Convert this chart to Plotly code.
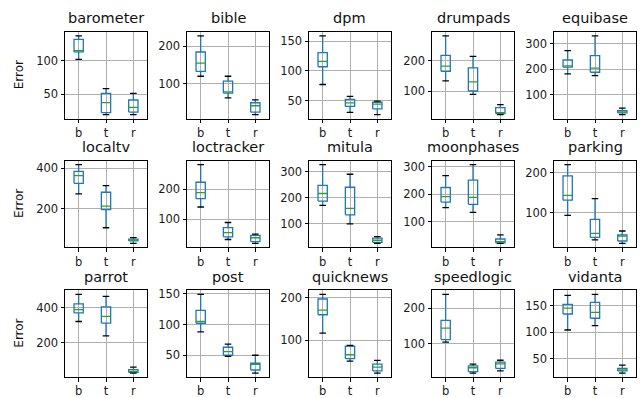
import plotly.graph_objects as go

# Datasets (one panel each) and the three methods compared in every panel
datasets = ["barometer", "bible", "dpm", "drumpads", "equibase",
            "localtv", "loctracker", "mitula", "moonphases", "parking",
            "parrot", "post", "quicknews", "speedlogic", "vidanta"]
methods = ["b", "t", "r"]

# Box-plot statistics per dataset, ordered as in `methods`
whisker_low = {
    "barometer": [102, 19, 19], "bible": [120, 62, 17], "dpm": [77, 30, 26],
    "drumpads": [134, 90, 23], "equibase": [182, 175, 22],
    "localtv": [273, 106, 29], "loctracker": [141, 32, 19], "mitula": [171, 100, 25],
    "moonphases": [152, 135, 22], "parking": [93, 32, 23],
    "parrot": [322, 239, 26], "post": [88, 48, 21], "quicknews": [117, 51, 23],
    "speedlogic": [105, 18, 24], "vidanta": [104, 112, 23],
}
quartile_1 = {
    "barometer": [113, 22, 23], "bible": [133, 75, 24], "dpm": [107, 40, 36],
    "drumpads": [166, 101, 27], "equibase": [208, 188, 29],
    "localtv": [325, 195, 41], "loctracker": [169, 41, 25], "mitula": [188, 135, 29],
    "moonphases": [172, 164, 24], "parking": [131, 38, 29],
    "parrot": [371, 313, 30], "post": [102, 50, 26], "quicknews": [160, 57, 28],
    "speedlogic": [112, 22, 31], "vidanta": [134, 126, 27],
}
median = {
    "barometer": [115, 37, 30], "bible": [155, 78, 41], "dpm": [116, 46, 44],
    "drumpads": [183, 131, 30], "equibase": [213, 204, 33],
    "localtv": [363, 213, 45], "loctracker": [189, 55, 38], "mitula": [217, 160, 37],
    "moonphases": [192, 189, 28], "parking": [143, 48, 41],
    "parrot": [390, 351, 35], "post": [105, 56, 35], "quicknews": [171, 66, 37],
    "speedlogic": [144, 33, 44], "vidanta": [145, 137, 29],
}
quartile_3 = {
    "barometer": [132, 51, 41], "bible": [185, 107, 49], "dpm": [131, 52, 47],
    "drumpads": [218, 177, 46], "equibase": [236, 253, 38],
    "localtv": [384, 281, 50], "loctracker": [224, 72, 46], "mitula": [248, 241, 45],
    "moonphases": [225, 252, 38], "parking": [192, 83, 44],
    "parrot": [423, 406, 46], "post": [123, 63, 37], "quicknews": [197, 86, 44],
    "speedlogic": [166, 38, 49], "vidanta": [152, 156, 32],
}
whisker_high = {
    "barometer": [137, 58, 51], "bible": [228, 120, 57], "dpm": [159, 57, 49],
    "drumpads": [282, 215, 56], "equibase": [273, 330, 48],
    "localtv": [417, 314, 57], "loctracker": [283, 89, 50], "mitula": [328, 291, 51],
    "moonphases": [268, 308, 53], "parking": [220, 135, 54],
    "parrot": [478, 466, 60], "post": [149, 68, 50], "quicknews": [208, 88, 53],
    "speedlogic": [239, 43, 54], "vidanta": [169, 171, 38],
}
y_tick_step = [50, 100, 50, 100, 100,
               200, 100, 100, 100, 100,
               200, 50, 100, 100, 50]

BLUE = "#1f77b4"
GREEN = "#2ca02c"
W, H = 642, 398
col_left = [65, 187, 309, 432, 554]
panel_w = 82
row_top = [28.3, 158.3, 289.3]
panel_h = 87.5
box_half = 0.17
cap_half = 0.12

fig = go.Figure()
annotations = []
layout = {}

for k, name in enumerate(datasets):
    r, c = divmod(k, 5)
    ax = "" if k == 0 else str(k + 1)
    xref, yref = "x" + ax, "y" + ax

    bx, by, wx, wy, cx, cy, mx, my = [], [], [], [], [], [], [], []
    lo, q1, md, q3, hi = (whisker_low[name], quartile_1[name], median[name],
                          quartile_3[name], whisker_high[name])
    for i in range(3):
        p = i + 1
        bx += [p - box_half, p + box_half, p + box_half, p - box_half, p - box_half, None]
        by += [q1[i], q1[i], q3[i], q3[i], q1[i], None]
        wx += [p, p, None, p, p, None]
        wy += [lo[i], q1[i], None, q3[i], hi[i], None]
        cx += [p - cap_half, p + cap_half, None, p - cap_half, p + cap_half, None]
        cy += [lo[i], lo[i], None, hi[i], hi[i], None]
        mx += [p - box_half, p + box_half, None]
        my += [md[i], md[i], None]

    for xs, ys, col in [(wx, wy, BLUE), (bx, by, BLUE), (cx, cy, "black"), (mx, my, GREEN)]:
        fig.add_trace(go.Scatter(x=xs, y=ys, mode="lines", xaxis=xref, yaxis=yref,
                                 line=dict(color=col, width=1.3), hoverinfo="skip",
                                 showlegend=False))

    ymin, ymax = min(lo), max(hi)
    pad = 0.05 * (ymax - ymin)

    x0 = col_left[c] / W
    x1 = (col_left[c] + panel_w) / W
    y1 = 1 - row_top[r] / H
    y0 = 1 - (row_top[r] + panel_h) / H

    common = dict(showline=True, mirror=True, linecolor="black", linewidth=1,
                  ticks="outside", ticklen=3.5, tickwidth=0.8, tickcolor="black",
                  showgrid=True, gridcolor="#b0b0b0", gridwidth=0.8, zeroline=False,
                  tickfont=dict(size=11.5, color="#1a1a1a"))
    layout["xaxis" + ax] = dict(domain=[x0, x1], anchor=yref, range=[0.5, 3.5],
                                tickvals=[1, 2, 3], ticktext=methods, **common)
    layout["yaxis" + ax] = dict(domain=[y0, y1], anchor=xref,
                                range=[ymin - pad, ymax + pad],
                                tick0=0, dtick=y_tick_step[k], **common)

    annotations.append(dict(text=name, x=(x0 + x1) / 2, y=y1 + 14 / H,
                            xref="paper", yref="paper", xanchor="center",
                            yanchor="middle", showarrow=False,
                            font=dict(size=14.5, color="#111")))
    if c == 0:
        annotations.append(dict(text="Error", x=19 / W, y=(y0 + y1) / 2,
                                xref="paper", yref="paper", textangle=-90,
                                xanchor="center", yanchor="middle", showarrow=False,
                                font=dict(size=12, color="#111")))

fig.update_layout(width=W, height=H, margin=dict(l=0, r=0, t=0, b=0),
                  paper_bgcolor="white", plot_bgcolor="white",
                  font=dict(family="DejaVu Sans"), annotations=annotations,
                  **layout)
fig.write_html("out.html")
